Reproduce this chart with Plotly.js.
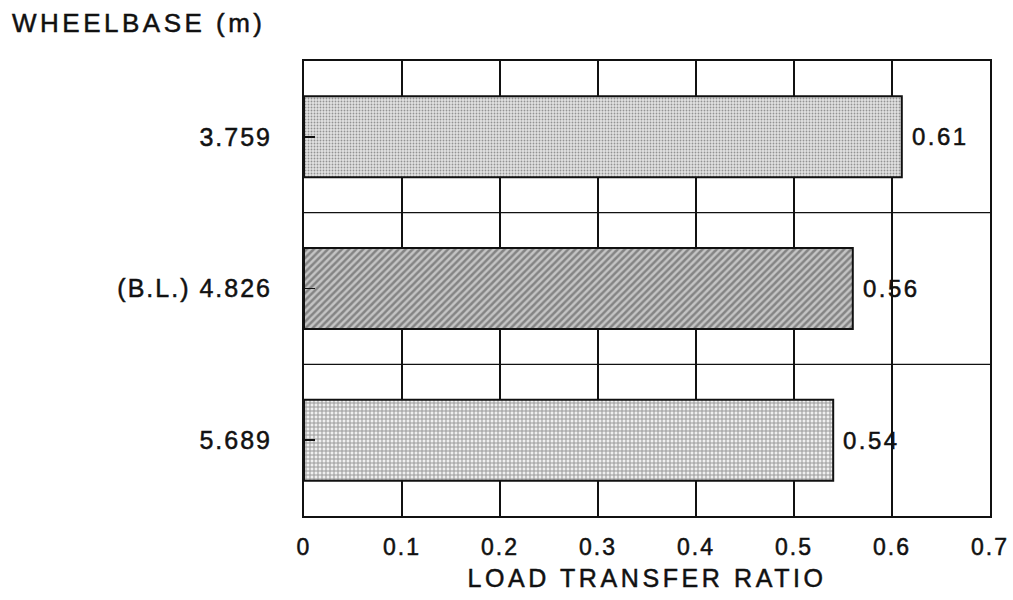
<!DOCTYPE html>
<html>
<head>
<meta charset="utf-8">
<script src="https://cdn.plot.ly/plotly-3.0.1.min.js"></script>
<style>
html,body{margin:0;padding:0;background:#fff;}
#chart{width:1013px;height:600px;}
#chart svg text{stroke:#111111;stroke-width:0.5px;}
#chart g.ytick text{letter-spacing:2px;}
#chart g.xtick text{letter-spacing:2px;}
#chart text.xtitle{letter-spacing:3.6px;}
#chart text.gtitle{letter-spacing:3.5px;}
#chart g.annotation text{letter-spacing:2.5px;}
</style>
</head>
<body>
<div id="chart"></div>
<script>
var wheelbase = ["3.759", "(B.L.) 4.826", "5.689"];
var loadTransferRatio = [0.61, 0.56, 0.54];
var valueLabels = ["0.61", "0.56", "0.54"];
var xTickVals = [0, 0.1, 0.2, 0.3, 0.4, 0.5, 0.6, 0.7];
var xTickText = ["0", "0.1", "0.2", "0.3", "0.4", "0.5", "0.6", "0.7"];

var fontFam = "Liberation Sans, Arial, sans-serif";
var ink = "#111111";

var trace = {
  type: "bar",
  orientation: "h",
  y: wheelbase,
  x: loadTransferRatio,
  width: 0.534,
  marker: {
    color: ["#e2e2e2", "#c4c4c4", "#f0f0f0"],
    line: {color: ink, width: 2},
    pattern: {
      shape: [".", "/", "+"],
      fgcolor: ["#5a5a5a", "#2a2a2a", "#2a2a2a"],
      size: [3, 5, 4],
      solidity: [0.3, 0.5, 0.45],
      fillmode: "overlay"
    }
  },
  hoverinfo: "skip",
  showlegend: false
};

var annotations = loadTransferRatio.map(function (v, i) {
  return {
    x: v, y: i, xref: "x", yref: "y",
    text: valueLabels[i], showarrow: false,
    xanchor: "left", xshift: 13,
    font: {family: fontFam, size: 24, color: ink}
  };
});

var shapes = [0.5, 1.5].map(function (yy) {
  return {type: "line", xref: "paper", yref: "y", x0: 0, x1: 1, y0: yy, y1: yy,
          line: {color: ink, width: 1.3}, layer: "below"};
});

var layout = {
  width: 1013, height: 600,
  margin: {l: 304, r: 23, t: 61, b: 84},
  paper_bgcolor: "#ffffff", plot_bgcolor: "#ffffff",
  font: {family: fontFam, color: ink},
  title: {
    text: "WHEELBASE (m)",
    xref: "container", yref: "container",
    x: 12 / 1013, xanchor: "left",
    y: 1 - 23 / 600, yanchor: "middle",
    font: {family: fontFam, size: 26, color: ink}
  },
  xaxis: {
    range: [0, 0.7],
    tickvals: xTickVals, ticktext: xTickText,
    showgrid: true, gridcolor: ink, gridwidth: 1.3,
    zeroline: false,
    showline: true, linecolor: ink, linewidth: 2, mirror: true,
    ticks: "", ticklabelstandoff: 9,
    tickfont: {family: fontFam, size: 23, color: ink},
    title: {text: "LOAD TRANSFER RATIO", font: {family: fontFam, size: 25, color: ink}, standoff: 11}
  },
  yaxis: {
    type: "category",
    categoryorder: "array", categoryarray: wheelbase,
    range: [2.5, -0.5],
    autorange: false,
    showgrid: false, zeroline: false,
    showline: true, linecolor: ink, linewidth: 2, mirror: true,
    ticks: "inside", ticklen: 11, tickwidth: 1.5, tickcolor: ink,
    ticklabelstandoff: 25,
    tickfont: {family: fontFam, size: 25, color: ink}
  },
  shapes: shapes,
  annotations: annotations
};

Plotly.newPlot("chart", [trace], layout, {displayModeBar: false, staticPlot: true});
</script>
</body>
</html>
